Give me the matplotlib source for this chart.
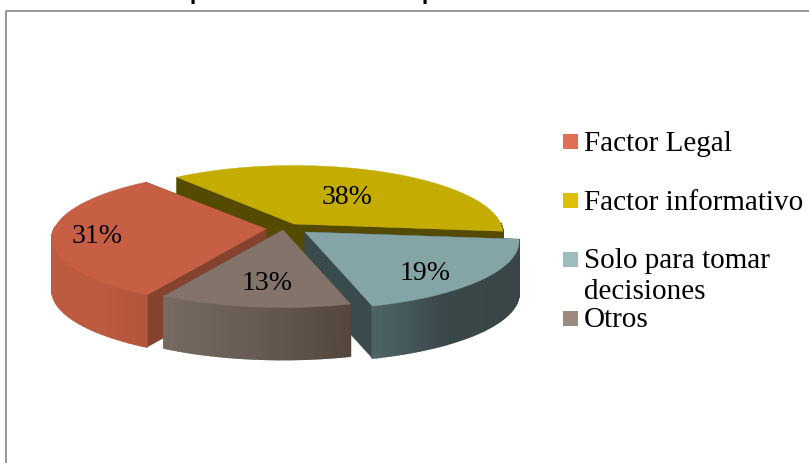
import numpy as np
import matplotlib
matplotlib.use('Agg')
import matplotlib.pyplot as plt
from matplotlib.colors import to_rgb
from matplotlib.patches import Rectangle

categories = ['Factor Legal', 'Factor informativo', 'Solo para tomar\ndecisiones', 'Otros']
values = [31, 38, 19, 13]
value_labels = ['31%', '38%', '19%', '13%']

top_colors = ['#C65F43', '#C4AC00', '#84A4A6', '#84736A']
face_colors = ['#85432F', '#544A00', '#3A4B4D', '#54463F']
wall_left = ['#BD5B40', '#544A00', '#4E6568', '#776A62']
wall_mid = ['#BC5A40', '#544A00', '#3A4749', '#665A52']
wall_right = ['#B0553B', '#544A00', '#394546', '#54463F']
legend_colors = ['#E06F54', '#DDC000', '#9BBDBD', '#9C8A7C']

plt.rcParams['font.family'] = ['Liberation Serif', 'DejaVu Serif']

# pixel layout of the exploded pie
apex = [(266, 230), (294, 225), (305, 233), (283, 231)]
radius_x = [212, 207, 212, 212]
ry, persp, depth = 68, 0.14, 52
start = 6.0

# clockwise angle range of each slice, starting from the teal one
order = [2, 3, 0, 1]
total = sum(values)
ranges = {}
a = start
for i in order:
    ranges[i] = (a, a + values[i] / total * 360)
    a = ranges[i][1]


def rim(i, ang):
    t = np.radians(ang)
    cx, cy = apex[i]
    k = 1 + persp * np.sin(t)
    return cx + radius_x[i] * np.cos(t) * k, cy + ry * np.sin(t) * k


f, ax = plt.subplots(figsize=(8.09, 4.64), dpi=100)
ax.set_position([0, 0, 1, 1])
ax.set_xlim(0, 809)
ax.set_ylim(464, 0)
ax.axis('off')

# chart frame, runs off the right and bottom of the picture
ax.plot([6.5, 6.5, 815], [470, 11.5, 11.5], color='#868686', lw=1.2)

# title is cut off by the picture, only the descenders show
ax.text(190, 0, 'p', fontsize=13, family='DejaVu Sans', fontweight='bold', ha='left', va='baseline')
ax.text(422, 0, 'p', fontsize=13, family='DejaVu Sans', fontweight='bold', ha='left', va='baseline')

# back to front: yellow, red, teal, brown
for i in [1, 0, 2, 3]:
    a0, a1 = ranges[i]
    cx, cy = apex[i]
    angs = np.linspace(a0, a1, 60)
    xs, ys = rim(i, angs)

    # cut faces
    for e in [0, -1]:
        ax.fill([cx, xs[e], xs[e], cx], [cy, ys[e], ys[e] + depth, cy + depth],
                color=face_colors[i], lw=0.5, zorder=1)

    # outer wall as a strip of narrow quads, colour follows x
    stops = np.array([to_rgb(wall_left[i]), to_rgb(wall_mid[i]), to_rgb(wall_right[i])])
    x0, x1 = xs.min(), xs.max()
    for j in range(len(angs) - 1):
        # back half of the rim is hidden by the top
        if np.sin(np.radians(angs[j])) < 0 and np.sin(np.radians(angs[j + 1])) < 0:
            continue
        fr = ((xs[j] + xs[j + 1]) / 2 - x0) / (x1 - x0)
        c = [np.interp(fr, [0, 0.5, 1], stops[:, n]) for n in range(3)]
        ax.fill([xs[j], xs[j + 1], xs[j + 1], xs[j]],
                [ys[j], ys[j + 1], ys[j + 1] + depth, ys[j] + depth],
                color=c, lw=1.2, zorder=1)

    ax.fill(np.r_[cx, xs], np.r_[cy, ys], color=top_colors[i], lw=0.3, zorder=1)

# data labels
label_pos = [(97, 237), (347, 198), (425, 274), (267, 284)]
for lab, (x, y) in zip(value_labels, label_pos):
    ax.text(x, y, lab, fontsize=20, ha='center', va='center', color='black', zorder=3)

# legend, spacing in the original is uneven
legend_y = [142, 201, 260.5, 319.5]
legend_base = [151, 210, 268, 327]
for c, name, y, b in zip(legend_colors, categories, legend_y, legend_base):
    ax.add_patch(Rectangle((563.5, y - 7.5), 15, 15, color=c, lw=0))
    if '\n' in name:
        first, second = name.split('\n')
        ax.text(584, b, first, fontsize=21, va='baseline')
        ax.text(584, b + 31, second, fontsize=21, va='baseline')
    else:
        ax.text(584, b, name, fontsize=21, va='baseline')

f.savefig('out.png', dpi=100)
